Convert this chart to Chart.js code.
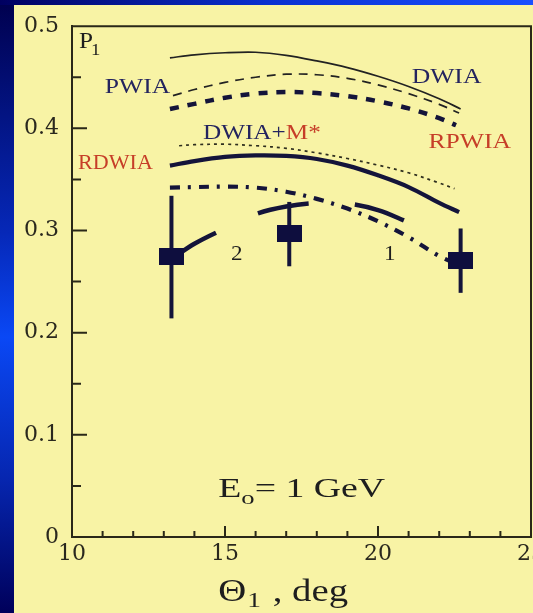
<!DOCTYPE html>
<html>
<head>
<meta charset="utf-8">
<script src="https://cdn.jsdelivr.net/npm/chart.js@4.4.1/dist/chart.umd.min.js"></script>
<style>
  html, body { margin: 0; padding: 0; width: 533px; height: 613px; overflow: hidden; }
  body { position: relative; background: linear-gradient(to bottom, #00004e 0%, #0628b8 38%, #0a48f5 55%, #0626b0 78%, #00005a 100%); }
  #topband { position: absolute; left: 0; top: 0; width: 533px; height: 5px; background: linear-gradient(to right, #000060, #0a30d0 50%, #1a50ff); }
  #panel { position: absolute; left: 14px; top: 5px; width: 519px; height: 608px; background: #f8f3a5; }
  #graphCanvas { position: absolute; left: 0; top: 0; }
</style>
</head>
<body>
<div id="topband"></div>
<div id="panel"></div>
<canvas id="graphCanvas" width="560" height="613"></canvas>
<script>
// theta_1 (deg) and P_1 for each calculated curve
const dwiaTheta  = [13.2, 14, 15, 16, 17, 18, 19, 20, 21, 22, 22.7];
const dwiaP      = [0.469, 0.472, 0.474, 0.4745, 0.4715, 0.466, 0.4595, 0.451, 0.441, 0.429, 0.419];
const pwiaTheta  = [13.3, 14, 15, 16, 17, 18, 19, 20, 21, 22, 22.65];
const pwiaP      = [0.432, 0.438, 0.445, 0.450, 0.453, 0.4525, 0.449, 0.4425, 0.434, 0.4235, 0.415];
const rpwiaTheta = [13.2, 14, 15, 16, 17, 18, 19, 20, 21, 22, 22.55];
const rpwiaP     = [0.419, 0.424, 0.430, 0.434, 0.4355, 0.4345, 0.4315, 0.4265, 0.4195, 0.410, 0.403];
const dwiaMTheta = [13.5, 14, 15, 16, 17, 18, 19, 20, 21, 22, 22.5];
const dwiaMP     = [0.383, 0.384, 0.3845, 0.383, 0.3805, 0.376, 0.3705, 0.364, 0.3565, 0.3465, 0.341];
const rdwiaTheta = [13.2, 14, 15, 16, 17, 18, 19, 20, 21, 22, 22.65];
const rdwiaP     = [0.3635, 0.368, 0.372, 0.3735, 0.373, 0.370, 0.3635, 0.354, 0.3425, 0.327, 0.318];
const curve1Theta = [13.2, 14, 15, 16, 17, 18, 19, 20, 21, 22, 22.7];
const curve1P     = [0.342, 0.3425, 0.343, 0.342, 0.338, 0.331, 0.3215, 0.309, 0.2935, 0.275, 0.266];
const curve2Theta = [13.25, 14, 15, 16, 17, 18, 19, 20, 21];
const curve2P     = [0.272, 0.287, 0.302, 0.316, 0.3235, 0.327, 0.3265, 0.320, 0.308];

// measured points with error bars
const measTheta = [13.25, 17.1, 22.7];
const measP     = [0.275, 0.297, 0.271];
const measLow   = [0.214, 0.265, 0.239];
const measHigh  = [0.334, 0.328, 0.302];

// axis ticks
const yMajor = [0.1, 0.2, 0.3, 0.4];
const yMinor = [0.05, 0.15, 0.25, 0.35, 0.45];
const xMajor = [15, 20];
const xMinor = [11, 12, 13, 14, 16, 17, 18, 19, 21, 22, 23, 24];

const NAVY = '#24245e';
const RED = '#c63e28';
const INK = '#14143a';
const TXT = '#1e1e1e';

function pts(xs, ys) {
  return xs.map((x, i) => ({ x: x, y: ys[i] }));
}

function lineSet(xs, ys, width, dash, color) {
  return {
    data: pts(xs, ys),
    borderColor: color || INK,
    borderWidth: width,
    borderDash: dash,
    borderCapStyle: 'butt',
    pointRadius: 0,
    fill: false,
    tension: 0.35
  };
}

// filled rectangle used as point marker
const sq = document.createElement('canvas');
sq.width = 25; sq.height = 17;
const sqc = sq.getContext('2d');
sqc.fillStyle = '#0e0e3e';
sqc.fillRect(0, 0, 25, 17);

function stretchText(ctx, text, px, py, size, color, sx) {
  ctx.save();
  ctx.font = size + 'px "Liberation Serif"';
  ctx.fillStyle = color;
  ctx.textBaseline = 'alphabetic';
  ctx.textAlign = 'left';
  ctx.translate(px, py);
  ctx.scale(sx, 1);
  ctx.fillText(text, 0, 0);
  const w = ctx.measureText(text).width * sx;
  ctx.restore();
  return w;
}

const notes = [
  { x: 11.07, y: 0.4348, parts: [['PWIA', NAVY]], sx: 1.22 },
  { x: 21.1, y: 0.4446, parts: [['DWIA', NAVY]], sx: 1.22 },
  { x: 21.65, y: 0.3804, parts: [['RPWIA', RED]], sx: 1.22 },
  { x: 10.2, y: 0.3600, parts: [['RDWIA', RED]], sx: 1.05 },
  { x: 14.28, y: 0.3900, parts: [['DWIA', NAVY], ['+', NAVY], ['M*', RED]], sx: 1.2 },
  { x: 15.2, y: 0.2714, parts: [['2', TXT]], sx: 1.1 },
  { x: 20.2, y: 0.2714, parts: [['1', TXT]], sx: 1.1 }
];

const errorBars = {
  id: 'errorBars',
  beforeDatasetsDraw(chart) {
    const { ctx, scales: { x, y } } = chart;
    ctx.save();
    ctx.strokeStyle = INK;
    ctx.lineWidth = 4;
    measTheta.forEach((t, i) => {
      const px = x.getPixelForValue(t);
      ctx.beginPath();
      ctx.moveTo(px, y.getPixelForValue(measLow[i]));
      ctx.lineTo(px, y.getPixelForValue(measHigh[i]));
      ctx.stroke();
    });
    ctx.restore();
  }
};

const frameAndText = {
  id: 'frameAndText',
  afterDraw(chart) {
    const { ctx, chartArea: a, scales: { x, y } } = chart;
    ctx.save();
    ctx.strokeStyle = '#2a2818';
    ctx.lineWidth = 2;
    ctx.beginPath();
    ctx.moveTo(a.left, a.top); ctx.lineTo(a.right, a.top); ctx.lineTo(a.right, a.bottom);
    // inward ticks
    yMajor.forEach(v => { const p = y.getPixelForValue(v); ctx.moveTo(a.left, p); ctx.lineTo(a.left + 15, p); });
    yMinor.forEach(v => { const p = y.getPixelForValue(v); ctx.moveTo(a.left, p); ctx.lineTo(a.left + 9, p); });
    xMajor.forEach(v => { const p = x.getPixelForValue(v); ctx.moveTo(p, a.bottom); ctx.lineTo(p, a.bottom - 11); });
    xMinor.forEach(v => { const p = x.getPixelForValue(v); ctx.moveTo(p, a.bottom); ctx.lineTo(p, a.bottom - 6); });
    ctx.stroke();
    ctx.restore();

    notes.forEach(n => {
      let px = x.getPixelForValue(n.x);
      const py = y.getPixelForValue(n.y);
      n.parts.forEach(p => { px += stretchText(ctx, p[0], px, py, 21, p[1], n.sx); });
    });

    // P_1
    let px = a.left + 7;
    let py = a.top + 22;
    px += stretchText(ctx, 'P', px, py, 24, TXT, 1.05);
    stretchText(ctx, '1', px - 2, py + 7, 17, TXT, 1.1);

    // E_o = 1 GeV
    px = x.getPixelForValue(14.78);
    py = y.getPixelForValue(0.0389);
    px += stretchText(ctx, 'E', px, py, 27, TXT, 1.4);
    px += stretchText(ctx, 'o', px, py + 7, 19, TXT, 1.4);
    stretchText(ctx, '= 1 GeV', px, py, 27, TXT, 1.4);

    // axis title
    px = x.getPixelForValue(14.78);
    py = a.bottom + 64;
    px += stretchText(ctx, '\u0398', px, py, 31, TXT, 1.25);
    px += stretchText(ctx, '1', px + 1, py + 6, 22, TXT, 1.25);
    stretchText(ctx, ' , deg', px + 3, py, 31, TXT, 1.25);
  }
};

const tickFont = { family: 'DejaVu Serif', size: 22 };

new Chart(document.getElementById('graphCanvas').getContext('2d'), {
  type: 'line',
  data: {
    datasets: [
      {
        data: pts(measTheta, measP),
        showLine: false,
        pointStyle: sq,
        pointRadius: 10
      },
      lineSet(dwiaTheta, dwiaP, 1.7, [], '#222'),
      lineSet(pwiaTheta, pwiaP, 1.7, [9, 7], '#222'),
      lineSet(rpwiaTheta, rpwiaP, 4.5, [9, 9]),
      lineSet(dwiaMTheta, dwiaMP, 1.7, [3, 4], '#2e2e1e'),
      lineSet(rdwiaTheta, rdwiaP, 4.2, []),
      lineSet(curve1Theta, curve1P, 4.2, [10, 8, 3, 8]),
      lineSet(curve2Theta, curve2P, 4.5, [52, 46])
    ]
  },
  options: {
    responsive: false,
    animation: false,
    layout: { padding: { left: 0, top: 23, right: 29, bottom: 0 } },
    plugins: { legend: { display: false }, tooltip: { enabled: false } },
    scales: {
      x: {
        type: 'linear',
        min: 10,
        max: 25,
        afterFit: s => { s.height = 76; },
        ticks: { stepSize: 5, padding: 4, maxRotation: 0, color: '#2a281e', font: tickFont },
        grid: { display: false, drawTicks: false },
        border: { display: true, color: '#2a2818', width: 2 }
      },
      y: {
        type: 'linear',
        min: 0,
        max: 0.5,
        afterFit: s => { s.width = 72; },
        ticks: {
          stepSize: 0.1,
          padding: 13,
          color: '#2a281e',
          font: tickFont,
          callback: v => (v === 0 ? '0' : v.toFixed(1))
        },
        grid: { display: false, drawTicks: false },
        border: { display: true, color: '#2a2818', width: 2 }
      }
    }
  },
  plugins: [errorBars, frameAndText]
});
</script>
</body>
</html>
